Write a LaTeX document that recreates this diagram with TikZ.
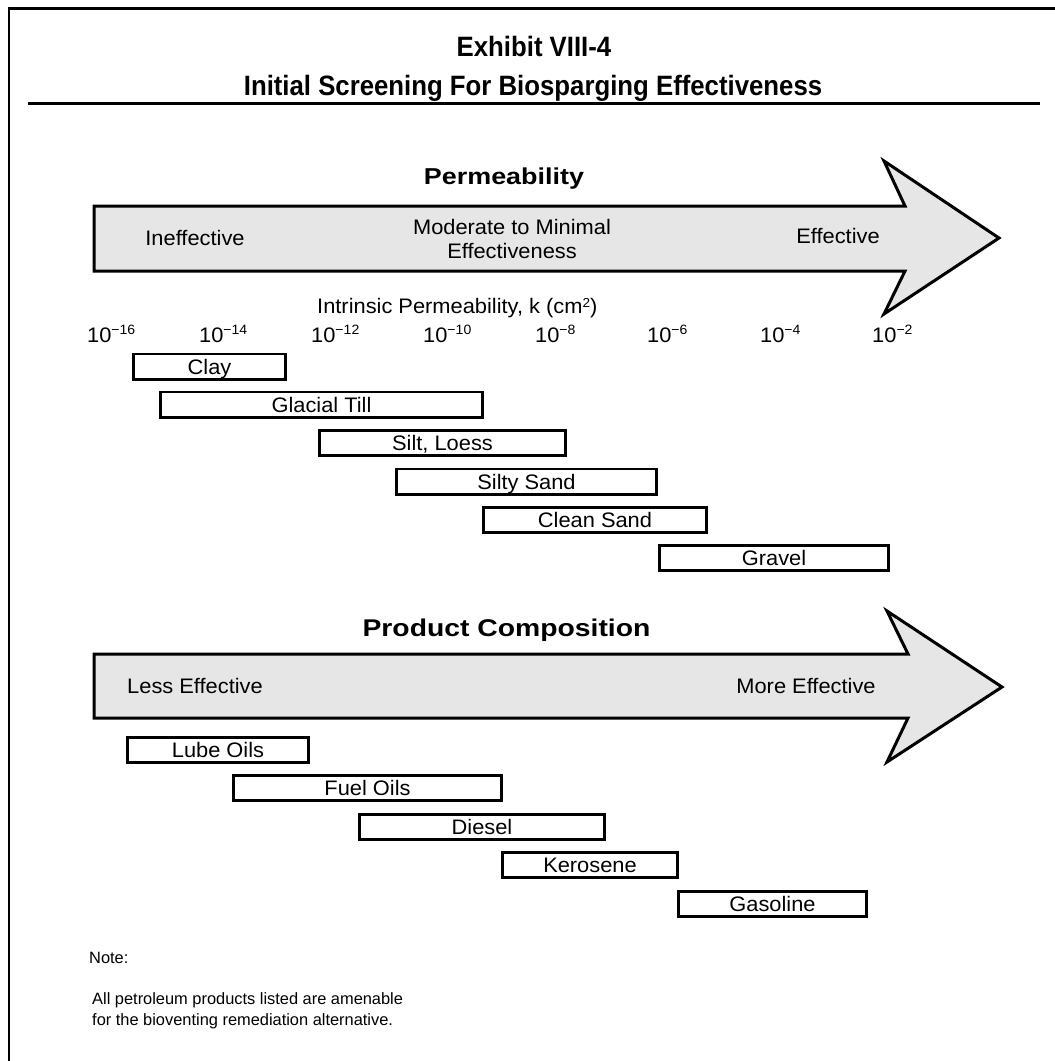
\documentclass[tikz,border=0pt]{standalone}
\usepackage{fontspec}
\setmainfont{Liberation Sans}
\newfontfamily\titlef[FakeStretch=0.92]{Liberation Sans}
\newfontfamily\headf[FakeStretch=1.17]{Liberation Sans}
\newfontfamily\rgf[FakeStretch=1.04]{Liberation Sans}
\newcommand\pwr[1]{10\raisebox{8pt}{\fontsize{13.5}{13.5}\selectfont −#1}}
\definecolor{arrowfill}{HTML}{E6E6E6}
\tikzset{
  rgtext/.style={font=\rgf\fontsize{21}{21}\selectfont},
  bx/.style={draw, line width=2.8pt, inner sep=0pt, minimum height=25.2pt,
             text height=15pt, text depth=0pt, rgtext},
  atx/.style={inner sep=0pt, text height=15pt, text depth=0pt, rgtext},
  scl/.style={inner sep=0pt, anchor=base west, rgtext},
  titletext/.style={inner sep=0pt, anchor=base, font=\titlef\bfseries\fontsize{28}{28}\selectfont},
  headtext/.style={inner sep=0pt, anchor=base, font=\headf\bfseries\fontsize{#1}{#1}\selectfont},
  notetext/.style={inner sep=0pt, anchor=base west, font=\fontsize{16.4}{16.4}\selectfont},
  bigarrow/.style={draw, line width=3pt, fill=arrowfill, line join=miter}
}
\begin{document}
\begin{tikzpicture}[x=1pt,y=-1pt]
\useasboundingbox (0,0) rectangle (1055,1061);
% frame
\draw[line width=2.5pt] (9,1062) -- (9,8.5) -- (1056,8.5);
% title
\node[titletext] (t1) at (534,56.7) {Exhibit VIII-4};
\node[titletext] (t2) at (533,95) {Initial Screening For Biosparging Effectiveness};
\draw[line width=3.3pt] (28,103.5) -- (1040,103.5);

% Permeability
\node[headtext=23] (perm) at (504,184) {Permeability};
\draw[bigarrow] (94,206) -- (905,206) -- (884,161) -- (999,238) -- (884,314) -- (905,271) -- (94,271) -- cycle;
\node[atx] (ineff) at (195,238) {Ineffective};
\node[atx] (mod1) at (512,227) {Moderate to Minimal};
\node[atx] (mod2) at (512,251) {Effectiveness};
\node[atx] (eff) at (838,236) {Effective};

\node[scl] (ipk) at (317,313) {Intrinsic Permeability, k (cm\raisebox{6pt}{\fontsize{13}{13}\selectfont 2})};
\node[scl] (s16) at (87,342) {\pwr{16}};
\node[scl] (s14) at (199,342) {\pwr{14}};
\node[scl] (s12) at (311,342) {\pwr{12}};
\node[scl] (s10) at (423,342) {\pwr{10}};
\node[scl] (s8)  at (535,342) {\pwr{8}};
\node[scl] (s6)  at (647,342) {\pwr{6}};
\node[scl] (s4)  at (760,342) {\pwr{4}};
\node[scl] (s2)  at (872,342) {\pwr{2}};

\node[bx, minimum width=152.2pt] (clay)   at (209.5,366.5) {Clay};
\node[bx, minimum width=322.2pt] (till)   at (321.5,404.5) {Glacial Till};
\node[bx, minimum width=246.2pt] (silt)   at (442.5,443)   {Silt, Loess};
\node[bx, minimum width=260.2pt] (silty)  at (526.5,481.5) {Silty Sand};
\node[bx, minimum width=223.2pt] (clean)  at (595,520)     {Clean Sand};
\node[bx, minimum width=229.2pt] (gravel) at (774,558)     {Gravel};

% Product composition
\node[headtext=24.2] (prod) at (506.5,636) {Product Composition};
\draw[bigarrow] (94,654) -- (908,654) -- (887,611) -- (1002,687) -- (887,762) -- (908,718) -- (94,718) -- cycle;
\node[atx] (less) at (195,686) {Less Effective};
\node[atx] (more) at (806,686) {More Effective};

\node[bx, minimum width=181.2pt] (lube)  at (218,750)   {Lube Oils};
\node[bx, minimum width=268.2pt] (fuel)  at (367.5,788) {Fuel Oils};
\node[bx, minimum width=245.2pt] (dies)  at (482,827)   {Diesel};
\node[bx, minimum width=175.2pt] (kero)  at (590,865)   {Kerosene};
\node[bx, minimum width=188.2pt] (gaso)  at (772.5,904) {Gasoline};

% note
\node[notetext] (note)  at (89,963)  {Note:};
\node[notetext] (note1) at (92,1004) {All petroleum products listed are amenable};
\node[notetext] (note2) at (92,1025) {for the bioventing remediation alternative.};
\end{tikzpicture}
\end{document}
